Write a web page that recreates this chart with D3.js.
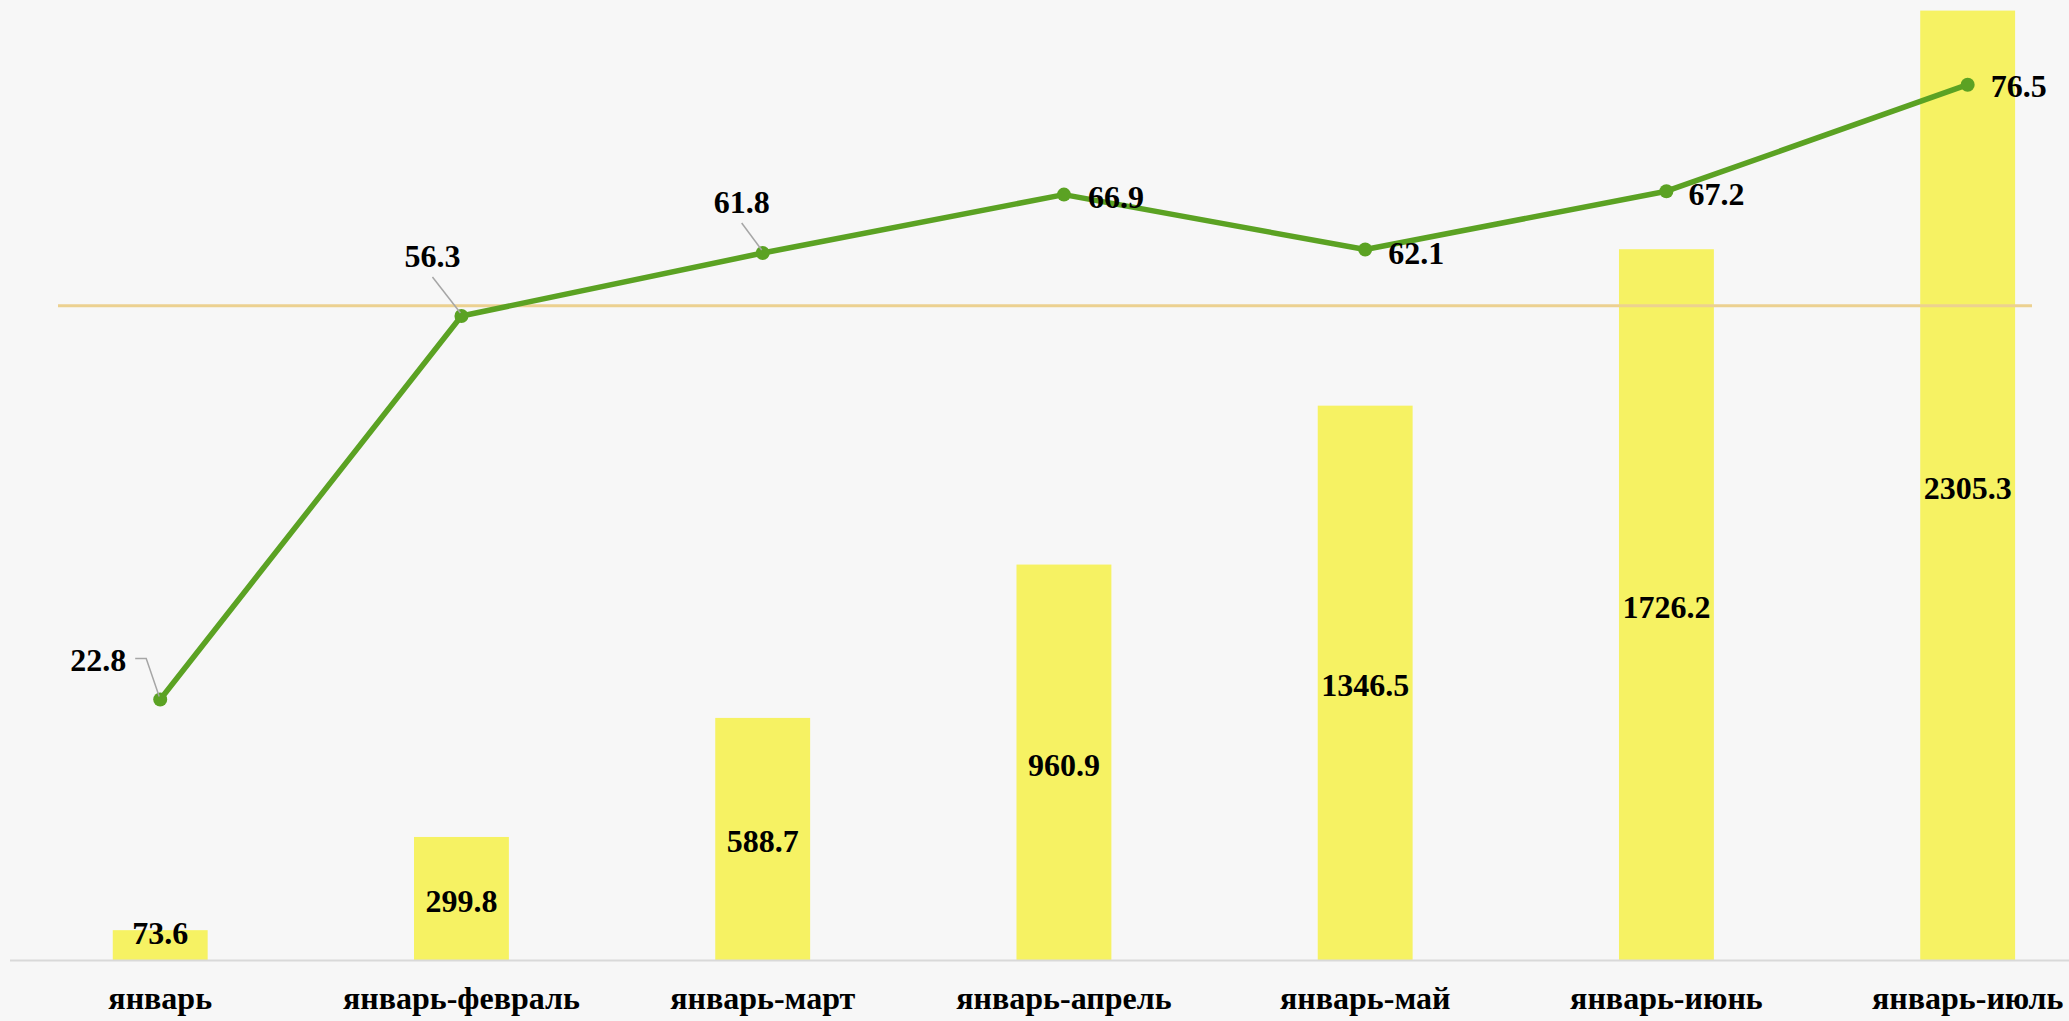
<!DOCTYPE html>
<html>
<head>
<meta charset="utf-8">
<script src="https://cdn.jsdelivr.net/npm/d3@7"></script>
<style>
  body { margin: 0; background: #f7f7f7; }
  #wrapper svg { display: block; }
</style>
</head>
<body>
<div id="wrapper"></div>
<script>
// ---------- DATA -----------------------------------------------
const categories = [
  "январь",
  "январь-февраль",
  "январь-март",
  "январь-апрель",
  "январь-май",
  "январь-июнь",
  "январь-июль",
];
const barValues = [73.6, 299.8, 588.7, 960.9, 1346.5, 1726.2, 2305.3];
const lineValues = [22.8, 56.3, 61.8, 66.9, 62.1, 67.2, 76.5];
// horizontal reference line, in units of the line (right) axis
const refValue = 57.2;

async function drawChart() {

  // ---------- CREATE DIMENSIONS ----------------------------------------
  let dimensions = {
    width: 2069,
    height: 1021,
    baseline: 960.5,
    axisStart: 10,
  };

  const fontFamily = "'Liberation Serif', 'Times New Roman', serif";

  // ---------- CREATE SVG GRAPH FOR DRAWING ----------------------------------------
  const svg = d3
    .select("#wrapper")
    .append("svg")
    .attr("width", dimensions.width)
    .attr("height", dimensions.height);

  svg.append("rect")
    .attr("width", dimensions.width)
    .attr("height", dimensions.height)
    .attr("fill", "#f7f7f7");

  // ---------- SCALES ------------------------------------------------------
  const xScale = d3
    .scaleBand()
    .domain(categories)
    .range([dimensions.axisStart, dimensions.width])
    .paddingInner(0.685)
    .paddingOuter(0.26)
    .align(0.656);

  const yBar = d3
    .scaleLinear()
    .domain([0, 2331])
    .range([dimensions.baseline, 0]);

  const yLine = d3
    .scaleLinear()
    .domain([0, 83.9])
    .range([dimensions.baseline, 0]);

  const xCenter = (d, i) => xScale(categories[i]) + xScale.bandwidth() / 2;

  // ---------- BARS ------------------------------------------------------
  const barsGroup = svg.append("g").attr("class", "barsGroup");

  barsGroup.selectAll("rect")
    .data(barValues)
    .join("rect")
    .attr("x", (d, i) => xScale(categories[i]))
    .attr("y", (d) => yBar(d))
    .attr("width", xScale.bandwidth())
    .attr("height", (d) => dimensions.baseline - yBar(d))
    .attr("fill", "#f6f263");

  // ---------- X AXIS ----------------------------------------------------
  const xAxisGenerator = d3.axisBottom(xScale).tickSize(0).tickPadding(0);
  const xAxis = svg.append("g")
    .attr("class", "x-axis")
    .attr("transform", `translate(0, ${dimensions.baseline})`)
    .call(xAxisGenerator);

  xAxis.select(".domain")
    .attr("d", `M${dimensions.axisStart},0H${dimensions.width}`)
    .attr("stroke", "#d9d9d9")
    .attr("stroke-width", 2);

  xAxis.selectAll(".tick text")
    .attr("y", 48)
    .attr("dy", 0)
    .attr("fill", "#000")
    .style("font-family", fontFamily)
    .style("font-weight", "bold")
    .style("font-size", "32px");

  // bar value labels, centred in the bar (kept above the axis for short bars)
  barsGroup.selectAll("text")
    .data(barValues)
    .join("text")
    .attr("x", xCenter)
    .attr("y", (d) => Math.min((yBar(d) + dimensions.baseline) / 2 + 2, dimensions.baseline - 28))
    .attr("text-anchor", "middle")
    .attr("dominant-baseline", "central")
    .style("font-family", fontFamily)
    .style("font-weight", "bold")
    .style("font-size", "32px")
    .text((d) => d.toFixed(1));

  // ---------- REFERENCE LINE --------------------------------------------
  svg.append("line")
    .attr("x1", 58)
    .attr("x2", 2032)
    .attr("y1", yLine(refValue))
    .attr("y2", yLine(refValue))
    .attr("stroke", "#ecd190")
    .attr("stroke-width", 3);

  // ---------- LINE ------------------------------------------------------
  const lineGenerator = d3.line()
    .x(xCenter)
    .y((d) => yLine(d));

  svg.append("path")
    .datum(lineValues)
    .attr("d", lineGenerator)
    .attr("fill", "none")
    .attr("stroke", "#5ba223")
    .attr("stroke-width", 5.5)
    .attr("stroke-linejoin", "round");

  svg.append("g")
    .selectAll("circle")
    .data(lineValues)
    .join("circle")
    .attr("cx", xCenter)
    .attr("cy", (d) => yLine(d))
    .attr("r", 7)
    .attr("fill", "#5ba223");

  // label placement for each point: offset of the label and whether a leader is drawn
  const labelPlacement = [
    { dx: -34, dy: -39, anchor: "end", leader: [[-25, -41], [-14, -41]] },
    { dx: -29, dy: -60, anchor: "middle", leader: [[-29, -39]] },
    { dx: -21, dy: -51, anchor: "middle", leader: [[-21, -30]] },
    { dx: 24, dy: 2, anchor: "start" },
    { dx: 23, dy: 3, anchor: "start" },
    { dx: 22, dy: 3, anchor: "start" },
    { dx: 23, dy: 1, anchor: "start" },
  ];

  const lineLabels = svg.append("g").attr("class", "lineLabels");

  lineValues.forEach((v, i) => {
    const px = xCenter(v, i);
    const py = yLine(v);
    const p = labelPlacement[i];
    if (p.leader) {
      const pts = p.leader.map(([lx, ly]) => [px + lx, py + ly]);
      pts.push([px - 1, py - 3]);
      lineLabels.append("path")
        .attr("d", d3.line()(pts))
        .attr("fill", "none")
        .attr("stroke", "#a6a6a6")
        .attr("stroke-width", 1.5);
    }
    lineLabels.append("text")
      .attr("x", px + p.dx)
      .attr("y", py + p.dy)
      .attr("text-anchor", p.anchor)
      .attr("dominant-baseline", "central")
      .style("font-family", fontFamily)
      .style("font-weight", "bold")
      .style("font-size", "32px")
      .text(v.toFixed(1));
  });

}

drawChart();
</script>
</body>
</html>
